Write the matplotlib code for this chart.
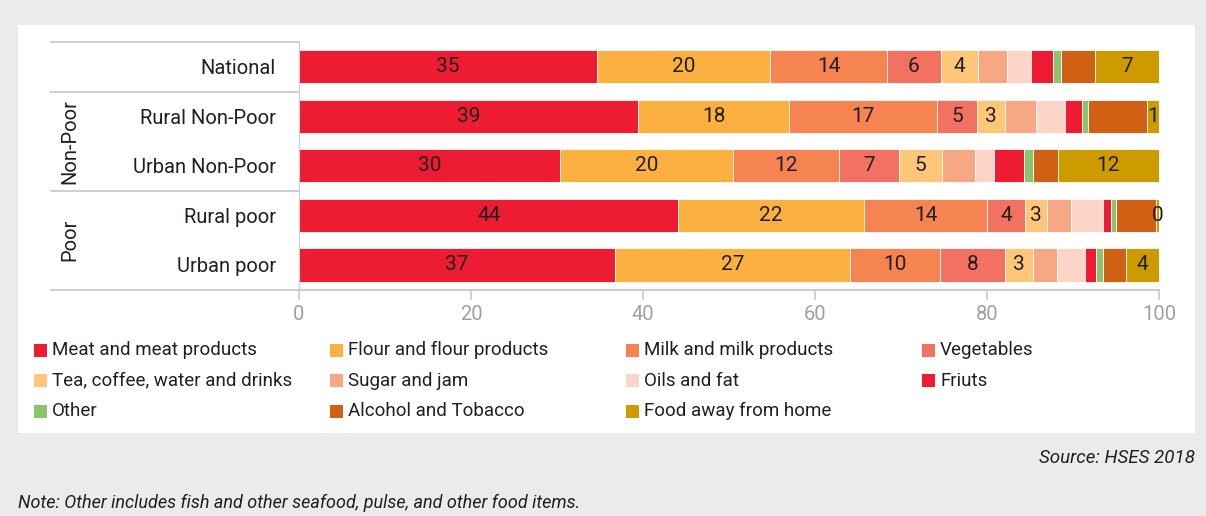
import matplotlib.pyplot as plt
from matplotlib.patches import Rectangle
from matplotlib.lines import Line2D

plt.rcParams['font.family'] = ['Roboto', 'DejaVu Sans']

# Share of food expenditure (%) by item group
rows = ['National', 'Rural Non-Poor', 'Urban Non-Poor', 'Rural poor', 'Urban poor']
items = ['Meat and meat products', 'Flour and flour products', 'Milk and milk products',
         'Vegetables', 'Tea, coffee, water and drinks', 'Sugar and jam', 'Oils and fat',
         'Friuts', 'Other', 'Alcohol and Tobacco', 'Food away from home']
meat = [34.6, 39.4, 30.4, 44.1, 36.7]
flour = [20.2, 17.6, 20.1, 21.6, 27.4]
milk = [13.6, 17.2, 12.3, 14.3, 10.4]
vegetables = [6.2, 4.6, 7.0, 4.4, 7.6]
drinks = [4.3, 3.3, 5.0, 2.6, 3.3]
sugar = [3.4, 3.6, 3.8, 2.8, 2.7]
oils = [2.8, 3.4, 2.2, 3.7, 3.3]
fruits = [2.6, 1.9, 3.5, 0.9, 1.3]
other = [0.9, 0.7, 1.0, 0.6, 0.8]
alcohol = [4.0, 6.9, 2.9, 4.7, 2.7]
away = [7.4, 1.4, 11.8, 0.3, 3.8]
series = [meat, flour, milk, vegetables, drinks, sugar, oils, fruits, other, alcohol, away]
labelled = {0, 1, 2, 3, 4, 10}

colors = ['#ED1C33', '#FBB040', '#F58450', '#F37160', '#FEC679', '#F7A781',
          '#FDD5C8', '#ED1C33', '#8DC36A', '#D06114', '#CD9A00']

W, H = 1206, 516
fig = plt.figure(figsize=(W / 100, H / 100), dpi=100, facecolor='#ebebeb')

# white panel behind chart and legend
fig.add_artist(Rectangle((18 / W, 1 - 433 / H), (1195 - 18) / W, (433 - 25) / H,
                         transform=fig.transFigure, facecolor='white', edgecolor='none', zorder=0))

ax = fig.add_axes([299 / W, 1 - 289.75 / H, 860 / W, 247.75 / H])
ax.set_facecolor('white')

left = [0.0] * len(rows)
for i, vals in enumerate(series):
    bars = ax.barh(range(len(rows)), vals, left=left, height=0.67,
                   color=colors[i], edgecolor='white', linewidth=0.6, zorder=2)
    if i in labelled:
        ax.bar_label(bars, labels=['%.0f' % v for v in vals], label_type='center',
                     fontsize=15, color='#231f20')
    left = [a + b for a, b in zip(left, vals)]

ax.set_xlim(0, 100)
ax.set_ylim(len(rows) - 0.5, -0.5)
ax.set_xticks(range(0, 101, 20))
ax.set_yticks(range(len(rows)), rows)

grey = '#cccccc'
for s in ['top', 'right']:
    ax.spines[s].set_visible(False)
ax.spines['left'].set_color(grey)
ax.spines['bottom'].set_color(grey)
ax.spines['bottom'].set_linewidth(1.5)
ax.tick_params(axis='x', colors=grey, length=7, width=1.2, labelsize=14.5,
               labelcolor='#a0a0a0', pad=4)
ax.tick_params(axis='y', length=0, pad=16.5, labelsize=14.5, labelcolor='#231f20')

# row group table lines on the left
yt = ax.get_yaxis_transform()
x0 = (51 - 299) / 860
for y in [-0.5, 0.5, 2.5, 4.5]:
    ax.add_line(Line2D([x0, 0], [y, y], transform=yt, color=grey, lw=1.3, clip_on=False))
ax.text((70 - 299) / 860, 1.5, 'Non-Poor', transform=yt, rotation=90,
        ha='center', va='center', fontsize=14.5, color='#231f20')
ax.text((70 - 299) / 860, 3.5, 'Poor', transform=yt, rotation=90,
        ha='center', va='center', fontsize=14.5, color='#231f20')

# legend, four columns
for i, name in enumerate(items):
    col, row = i % 4, i // 4
    px = 34 + 296 * col
    py = 350 + 30.5 * row
    fig.add_artist(Rectangle((px / W, 1 - (py + 6.5) / H), 13 / W, 13 / H,
                             transform=fig.transFigure, facecolor=colors[i], edgecolor='none'))
    fig.text((px + 18) / W, 1 - py / H, name, ha='left', va='center',
             fontsize=13.5, color='#231f20')

fig.text(1195 / W, 1 - 458 / H, 'Source: HSES 2018', ha='right', va='center',
         fontsize=13.5, style='italic', color='#231f20')
fig.text(18 / W, 1 - 503 / H,
         'Note: Other includes fish and other seafood, pulse, and other food items.',
         ha='left', va='center', fontsize=13, style='italic', color='#231f20')

fig.savefig('out.png', dpi=100, facecolor=fig.get_facecolor())
